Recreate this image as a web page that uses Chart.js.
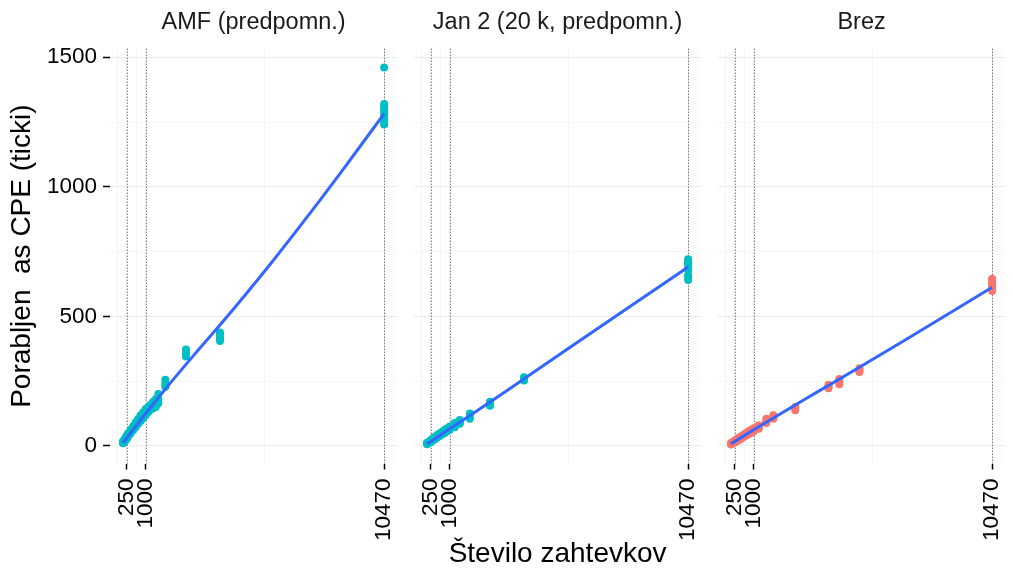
<!DOCTYPE html>
<html><head><meta charset="utf-8">
<script src="https://cdn.jsdelivr.net/npm/chart.js@4"></script>
<style>
html,body{margin:0;padding:0;background:#fff;}
#wrap{position:relative;width:1013px;height:571px;overflow:hidden;background:#fff;}
.pane{position:absolute;top:0;height:571px;}
</style></head><body>
<div id="wrap">
 <div class="pane" style="left:0;width:430px"><canvas id="c0"></canvas></div>
 <div class="pane" style="left:404px;width:330px"><canvas id="c1"></canvas></div>
 <div class="pane" style="left:708px;width:330px"><canvas id="c2"></canvas></div>
</div>
<script>
// ---- data ----
const panelTitles = ['AMF (predpomn.)', 'Jan 2 (20 k, predpomn.)', 'Brez'];
const pointColors = ['#00BFC4', '#00BFC4', '#F8766D'];
const xTickLabels = [250, 1000, 10470];
const xMinorGrid = [-125, 625, 5735, 10845];
const yTickLabels = [0, 500, 1000, 1500];
const yMinorGrid = [250, 750, 1250];
const vlineX = [250, 1000, 10470];

const amfX = [100,100,100,150,150,150,200,200,200,250,250,250,300,300,300,400,400,400,500,500,500,600,600,600,700,700,700,800,800,800,900,900,900,1000,1000,1000,1100,1100,1100,1200,1200,1200,1300,1300,1300,1400,1400,1400,1500,1500,1500,1780,1780,1780,2600,2600,2600,3950,3950,3950,3950,3950,10470,10470,10470,10470,10470,10470,10470,10470,10470];
const amfY = [10,14,18,15,20,24,22,27,32,28,34,40,35,42,48,48,55,62,60,68,76,72,82,90,85,95,104,96,108,118,108,120,130,118,132,142,130,140,150,140,150,160,145,158,170,150,165,180,165,180,200,228,240,255,345,358,372,405,412,420,430,438,1240,1250,1262,1275,1288,1300,1310,1320,1460];

const janX = [100,100,100,200,200,200,250,250,250,300,300,300,400,400,400,500,500,500,600,600,600,700,700,700,800,800,800,900,900,900,1000,1000,1000,1200,1200,1200,1400,1400,1400,1800,1800,1800,2600,2600,2600,3950,3950,3950,10470,10470,10470,10470,10470,10470,10470,10470];
const janY = [6,9,12,12,15,18,15,19,22,19,23,27,25,30,34,32,37,42,38,44,48,45,50,55,50,56,62,56,62,68,62,68,75,72,80,88,85,92,100,105,115,125,155,162,170,252,258,265,640,650,660,680,695,705,712,720];

const brezX = [100,100,100,200,200,200,250,250,250,300,300,300,400,400,400,500,500,500,600,600,600,700,700,700,800,800,800,900,900,900,1000,1000,1000,1200,1200,1200,1500,1500,1500,1780,1780,1780,2650,2650,2650,3970,3970,3970,4400,4400,4400,5200,5200,5200,10470,10470,10470,10470,10470,10470,10470];
const brezY = [5,8,11,11,14,17,14,17,20,17,20,24,22,27,31,28,33,37,34,38,43,40,45,50,45,50,56,50,56,62,56,62,68,66,72,80,88,95,105,105,112,118,138,144,150,222,229,236,238,248,258,285,292,300,598,605,612,620,630,638,645];

const smoothAmfX = [100, 500, 1000, 2000, 3000, 4000, 5000, 6000, 7000, 8000, 9000, 10470];
const smoothAmfY = [12, 62, 125, 245, 360, 472, 588, 708, 832, 958, 1088, 1282];
const smoothJanX = [100, 1000, 2000, 3000, 4000, 6000, 8000, 10470];
const smoothJanY = [7, 66, 130, 195, 262, 395, 527, 690];
const smoothBrezX = [100, 1000, 2000, 3000, 4000, 5000, 7000, 10470];
const smoothBrezY = [8, 62, 120, 178, 235, 292, 408, 612];

const X_MIN = -418, X_MAX = 10988;
const Y_MIN = -68, Y_MAX = 1533;

// ---- build ----
const FONT = "'Liberation Sans', Arial, Helvetica, sans-serif";
const pts = (xs, ys) => xs.map((x, i) => ({x, y: ys[i]}));
const panelPoints = [pts(amfX, amfY), pts(janX, janY), pts(brezX, brezY)];
const panelSmooth = [pts(smoothAmfX, smoothAmfY), pts(smoothJanX, smoothJanY), pts(smoothBrezX, smoothBrezY)];

const vlinePlugin = {
  id: 'vlines',
  beforeDatasetsDraw(chart) {
    const {ctx, chartArea, scales} = chart;
    ctx.save();
    ctx.strokeStyle = 'rgba(0,0,0,0.7)';
    ctx.lineWidth = 1;
    ctx.setLineDash([1, 2]);
    vlineX.forEach(v => {
      const px = Math.round(scales.x.getPixelForValue(v)) + 0.5;
      ctx.beginPath();
      ctx.moveTo(px, chartArea.top);
      ctx.lineTo(px, chartArea.bottom);
      ctx.stroke();
    });
    ctx.restore();
  }
};

function makeChart(idx, o) {
  const isFirst = idx === 0;
  new Chart(document.getElementById('c' + idx), {
    type: 'scatter',
    data: {
      datasets: [
        { type: 'line', data: panelSmooth[idx], borderColor: '#3366FF', borderWidth: 3,
          pointRadius: 0, fill: false, cubicInterpolationMode: 'monotone', order: 0 },
        { data: panelPoints[idx], backgroundColor: pointColors[idx], borderWidth: 0,
          pointRadius: 4, order: 1 }
      ]
    },
    options: {
      responsive: true, maintainAspectRatio: false, animation: false,
      layout: { padding: { left: 0, right: o.padRight, top: 0, bottom: 0 } },
      plugins: {
        legend: { display: false }, tooltip: { enabled: false },
        title: { display: true, text: panelTitles[idx], fullSize: false, color: '#1a1a1a',
          font: { family: FONT, size: 23.5, weight: 'normal', lineHeight: 1.2 },
          padding: { top: 8, bottom: 12.5 } }
      },
      scales: {
        x: {
          type: 'linear', min: X_MIN, max: X_MAX,
          afterBuildTicks: s => { s.ticks = xTickLabels.concat(xMinorGrid).sort((a,b)=>a-b).map(v => ({value: v})); },
          afterFit: s => { s.height = 107.5; },
          ticks: { autoSkip: false, minRotation: 90, maxRotation: 90, padding: 9, color: '#000',
            font: { family: FONT, size: 22.5 },
            callback: v => xTickLabels.includes(v) ? String(v) : '' },
          grid: {
            color: c => (c.tick && xTickLabels.includes(c.tick.value)) ? '#ebebeb' : '#f5f5f5',
            lineWidth: 1, tickLength: 6, tickWidth: 1.5,
            tickColor: c => (c.tick && xTickLabels.includes(c.tick.value)) ? '#000' : 'rgba(0,0,0,0)'
          },
          border: { display: false },
          title: { display: idx === 1, text: 'Število zahtevkov', color: '#000',
            font: { family: FONT, size: 28, lineHeight: 1 }, padding: { top: 0, bottom: 3 } }
        },
        y: {
          type: 'linear', min: Y_MIN, max: Y_MAX,
          afterBuildTicks: s => { s.ticks = yTickLabels.concat(yMinorGrid).sort((a,b)=>a-b).map(v => ({value: v})); },
          afterFit: s => { s.width = o.yWidth; },
          ticks: { display: isFirst, padding: 6, color: '#000', font: { family: FONT, size: 22.5 },
            callback: v => yTickLabels.includes(v) ? String(v) : '' },
          grid: {
            color: c => (c.tick && yTickLabels.includes(c.tick.value)) ? '#ebebeb' : '#f5f5f5',
            lineWidth: 1, drawTicks: isFirst, tickLength: 7, tickWidth: 1.5,
            tickColor: c => (c.tick && yTickLabels.includes(c.tick.value)) ? '#000' : 'rgba(0,0,0,0)'
          },
          border: { display: false },
          title: { display: isFirst, text: 'Porabljen  as CPE (ticki)', color: '#000',
            font: { family: FONT, size: 28, lineHeight: 1 }, padding: { top: 8, bottom: 0 } }
        }
      }
    },
    plugins: [vlinePlugin]
  });
}

makeChart(0, { yWidth: 110, padRight: 32 });
makeChart(1, { yWidth: 10, padRight: 32 });
makeChart(2, { yWidth: 10, padRight: 32 });
</script>
</body></html>
